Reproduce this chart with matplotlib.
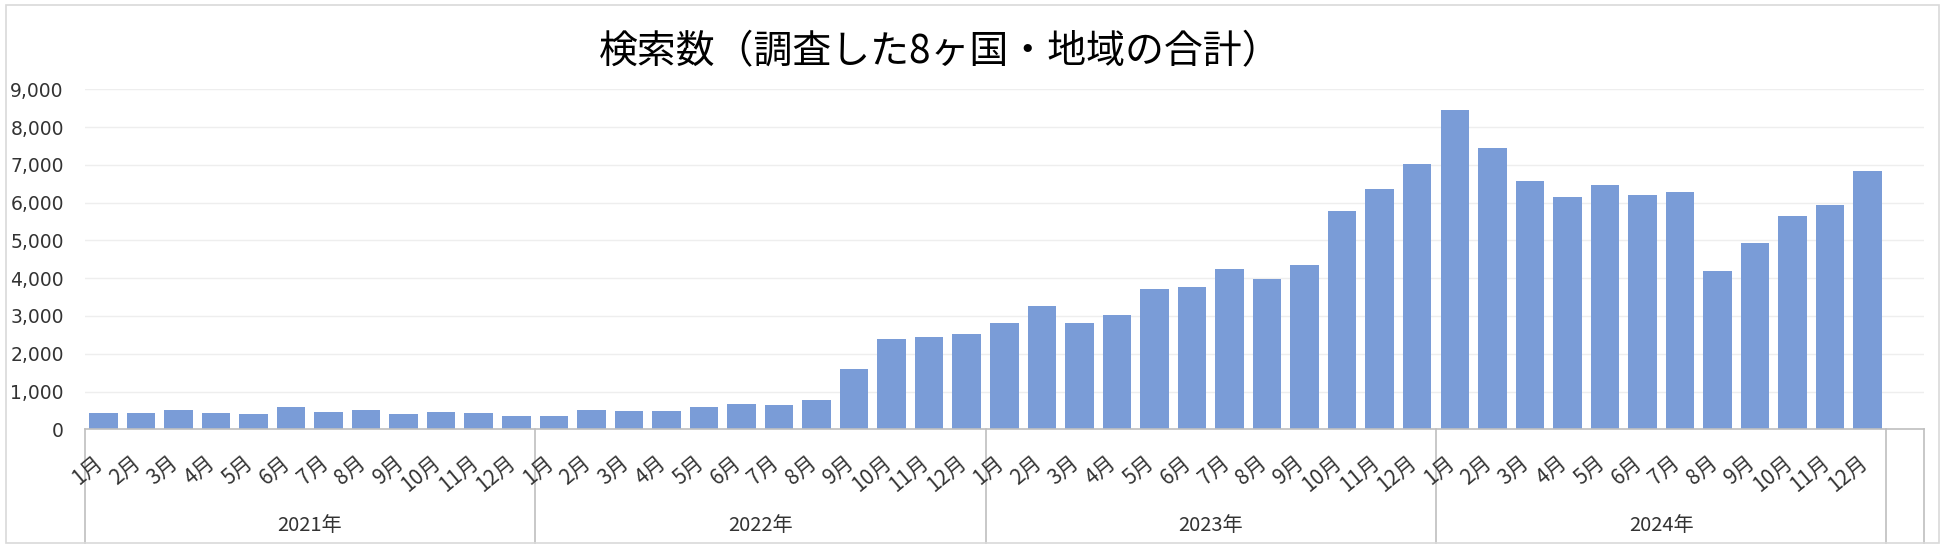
import matplotlib
matplotlib.use("Agg")
import matplotlib.pyplot as plt
from matplotlib.patches import Rectangle

# データ（各月の検索数）
years = ["2021年", "2022年", "2023年", "2024年"]
months = ["1月", "2月", "3月", "4月", "5月", "6月", "7月", "8月", "9月", "10月", "11月", "12月"]
v2021 = [424, 424, 520, 424, 406, 583, 468, 503, 406, 468, 424, 362]
v2022 = [362, 503, 485, 485, 590, 670, 640, 770, 1600, 2390, 2450, 2530]
v2023 = [2820, 3270, 2820, 3020, 3710, 3760, 4240, 3980, 4350, 5770, 6360, 7030]
v2024 = [8460, 7440, 6580, 6140, 6480, 6200, 6280, 4200, 4920, 5640, 5930, 6840]
title = "検索数（調査した8ヶ国・地域の合計）"

values = v2021 + v2022 + v2023 + v2024
n = len(values)
nslots = n + 1  # 最後に空の区分がひとつある

jp = ["Noto Sans CJK JP", "DejaVu Sans"]
grid_c = "#eeeeee"
axis_c = "#bfbfbf"
text_c = "#333333"

fig = plt.figure(figsize=(19.5, 5.54), dpi=100)
ax = fig.add_axes([84.6 / 1950, 1 - 429.3 / 554, (1924 - 84.6) / 1950, 340 / 554])

x = list(range(n))
ax.bar(x, values, width=0.76, color="#7a9cd7", zorder=2)

ax.set_xlim(-0.5, nslots - 0.5)
ax.set_ylim(0, 9000)
ax.set_yticks(range(0, 9001, 1000))
ax.set_yticklabels([f"{t:,}" for t in range(0, 9001, 1000)], fontsize=13.5,
                   color=text_c, family="DejaVu Sans")
ax.tick_params(axis="y", length=0, pad=15)
ax.set_xticks([])
ax.grid(axis="y", color=grid_c, linewidth=1, zorder=0)
for s in ["left", "right", "top"]:
    ax.spines[s].set_visible(False)
ax.spines["bottom"].set_color(axis_c)
ax.spines["bottom"].set_linewidth(1.2)

tr = ax.get_xaxis_transform()
bottom = -(542.5 - 429.3) / 340

# 月ラベル
for i in range(n):
    ax.text(i + 0.1, -0.065, months[i % 12], transform=tr, rotation=40,
            ha="right", va="top", fontsize=15, color=text_c, family=jp)

# 年ラベルと区切り線
for k, yname in enumerate(years):
    mid = k * 12 + 5.5
    ax.text(mid, -0.282, yname, transform=tr, ha="center", va="center",
            fontsize=14.5, color=text_c, family=jp)
for b in [-0.5, 11.5, 23.5, 35.5, 47.5, nslots - 0.5]:
    ax.plot([b, b], [0, bottom], transform=tr, color=axis_c, linewidth=1.2,
            clip_on=False)

# タイトル
fig.text(940.6 / 1950, 1 - 52 / 554, title, ha="center", va="center",
         fontsize=28, color="#000000", family=jp)

# グラフ全体の枠
fig.patches.append(Rectangle((6 / 1950, 1 - 543 / 554), (1939 - 6) / 1950, (543 - 5) / 554,
                             transform=fig.transFigure, fill=False,
                             edgecolor="#d9d9d9", linewidth=1.2))

fig.savefig("out.png", dpi=100, facecolor="white")
